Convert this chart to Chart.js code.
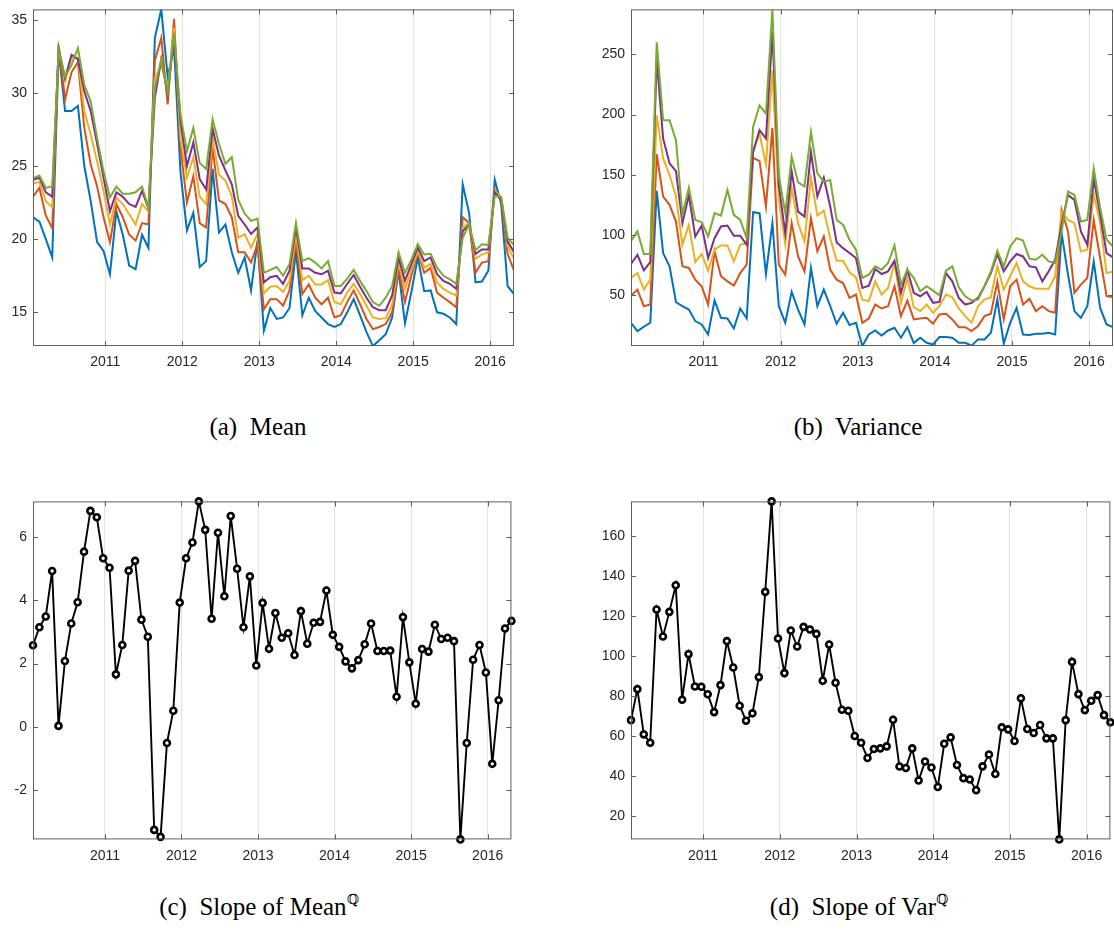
<!DOCTYPE html>
<html>
<head>
<meta charset="utf-8">
<script src="https://cdn.jsdelivr.net/npm/chart.js@4.4.0/dist/chart.umd.min.js"></script>
<style>
  body { margin: 0; background: #fff; width: 1114px; height: 932px; overflow: hidden; position: relative; }
  canvas { position: absolute; }
  .caption { position: absolute; font-family: 'Liberation Serif', serif; font-size: 25px; line-height: 1; color: #000; white-space: pre; transform: translateX(-50%); }
  .caption sup { font-family: 'DejaVu Serif', serif; font-size: 14px; vertical-align: 11px; line-height: 0; color: #000; }
</style>
</head>
<body>
<div class="caption" style="left:258px; top:414px;">(a)  Mean</div>
<div class="caption" style="left:858px; top:414px;">(b)  Variance</div>
<div class="caption" style="left:259px; top:894px;">(c)  Slope of Mean<sup>ℚ</sup></div>
<div class="caption" style="left:859px; top:894px;">(d)  Slope of Var<sup>ℚ</sup></div>
<script>
// monthly observations
const months = [
  '2010-01','2010-02','2010-03','2010-04','2010-05','2010-06','2010-07','2010-08','2010-09','2010-10','2010-11','2010-12',
  '2011-01','2011-02','2011-03','2011-04','2011-05','2011-06','2011-07','2011-08','2011-09','2011-10','2011-11','2011-12',
  '2012-01','2012-02','2012-03','2012-04','2012-05','2012-06','2012-07','2012-08','2012-09','2012-10','2012-11','2012-12',
  '2013-01','2013-02','2013-03','2013-04','2013-05','2013-06','2013-07','2013-08','2013-09','2013-10','2013-11','2013-12',
  '2014-01','2014-02','2014-03','2014-04','2014-05','2014-06','2014-07','2014-08','2014-09','2014-10','2014-11','2014-12',
  '2015-01','2015-02','2015-03','2015-04','2015-05','2015-06','2015-07','2015-08','2015-09','2015-10','2015-11','2015-12',
  '2016-01','2016-02','2016-03','2016-04'
];

// (a) mean, five curves
const mean1 = [21.5,21.2,20.0,18.75,32.9,28.75,28.75,29.1,25.0,22.6,19.8,19.2,17.6,21.9,20.3,18.2,17.95,20.3,19.4,33.75,35.7,31.1,33.1,24.55,20.6,21.8,
  18.1,18.5,24.8,20.45,21.0,19.1,17.7,18.75,16.5,19.9,13.75,15.3,14.55,14.65,15.3,19.2,14.8,16.0,15.1,14.65,14.2,14.0,14.2,15.0,
  15.9,14.8,13.65,12.7,13.1,13.5,14.65,17.85,14.25,16.4,18.75,16.45,16.5,15.0,14.9,14.65,14.2,23.75,21.8,17.05,17.1,17.85,24.05,22.4,16.8,16.25];
const mean2 = [22.9,23.5,21.6,20.75,33.25,29.55,31.4,32.1,27.6,25.1,23.6,21.5,19.8,22.4,21.5,20.3,19.9,21.1,21.0,32.2,33.75,29.2,35.05,26.25,22.5,24.3,
  21.1,20.8,26.25,22.65,22.4,21.5,19.1,19.1,18.4,19.65,15.2,15.9,15.9,15.45,16.5,19.9,16.25,16.9,16.0,15.55,16.0,14.65,14.8,15.7,
  16.5,15.55,14.55,13.85,14.0,14.2,15.0,18.05,15.7,17.5,19.1,17.7,18.05,16.35,16.0,15.7,15.35,21.5,21.1,17.7,18.4,18.5,23.4,22.6,19.0,17.85];
const mean3 = [23.8,23.9,22.6,22.2,33.1,30.8,32.4,32.4,28.75,27.15,25.3,23.3,21.0,22.85,22.4,21.7,21.0,22.4,21.9,31.0,31.9,30.2,34.4,26.9,24.2,25.6,
  22.9,22.4,26.9,24.4,24.0,22.95,20.1,20.35,19.4,20.35,16.3,16.75,16.8,16.4,17.15,20.35,17.2,17.5,16.9,16.9,17.2,15.7,15.55,16.35,
  16.95,16.25,15.45,14.65,14.55,14.6,15.55,18.4,16.6,17.9,19.2,18.05,18.3,17.05,16.6,16.35,16.15,20.8,21.1,18.65,18.95,19.1,23.3,22.85,19.55,18.65];
const mean4 = [24.05,24.2,23.2,22.9,33.0,31.0,32.6,32.3,30.1,28.75,26.5,24.2,21.9,23.2,22.9,22.4,22.2,23.3,22.1,29.65,32.3,29.9,33.9,28.05,25.0,26.6,
  24.1,23.4,27.55,25.7,24.7,23.75,21.6,21.0,20.35,20.8,17.05,17.4,17.5,16.95,17.85,20.8,18.0,18.0,17.7,17.6,17.85,16.35,16.3,16.95,
  17.55,16.75,16.0,15.35,15.15,15.15,16.15,18.75,17.15,18.3,19.45,18.5,18.75,17.6,17.15,16.95,16.6,20.55,21.0,19.0,19.3,19.3,23.2,22.7,19.85,19.1];
const mean5 = [24.15,24.35,23.5,23.6,32.9,31.1,31.9,33.05,30.55,29.4,26.9,24.65,22.85,23.6,23.1,23.1,23.2,23.6,22.15,30.3,32.3,30.0,34.1,28.5,26.0,27.6,
  25.2,24.8,28.2,26.5,25.15,25.6,22.7,21.75,21.25,21.4,17.7,17.9,18.1,17.5,18.3,21.1,18.5,18.7,18.4,18.0,18.5,16.8,16.8,17.3,
  17.9,17.15,16.45,15.7,15.45,16.0,16.8,19.1,17.7,18.6,19.65,18.95,19.0,18.05,17.5,17.25,16.95,20.1,21.0,19.25,19.65,19.6,22.95,22.9,20.1,19.6];

// (b) variance, five curves
const var1 = [26.8,19.9,23.5,26.8,136.5,84.8,73.8,43.9,40.6,37.8,28.2,25.4,17.1,45.3,30.9,30.4,22.1,38.7,30.4,118.8,118.0,67.4,109.7,40.6,26.8,52.5,
  37.8,25.4,72.4,40.6,54.4,40.6,26.0,35.1,24.9,26.8,7.5,17.1,20.4,16.3,20.4,22.7,14.4,23.2,9.9,14.4,10.2,8.8,14.9,14.9,
  14.4,10.2,10.2,7.8,13.0,13.0,18.5,46.1,9.4,26.8,39.2,17.1,16.6,17.7,17.7,18.5,17.1,101.4,66.9,36.5,30.9,40.6,77.9,39.2,25.4,23.2];
const var2 = [49.4,54.4,40.6,42.0,167.1,131.8,124.9,111.0,73.8,72.4,62.7,57.2,42.0,86.2,65.5,61.3,57.7,68.2,75.1,164.1,161.3,123.5,188.9,75.1,66.9,109.7,
  82.0,69.6,113.8,86.2,98.6,71.0,62.7,59.9,47.5,50.3,26.8,30.4,42.0,38.7,40.6,57.2,32.3,45.3,29.6,30.4,30.9,26.0,33.7,34.3,
  29.6,23.2,23.2,19.9,24.0,32.3,34.3,60.8,29.6,57.2,62.7,42.0,46.7,36.5,40.6,36.5,35.1,120.7,102.8,51.7,58.6,64.1,112.4,80.7,48.9,48.1];
const var3 = [64.1,68.2,54.4,62.7,199.4,163.5,149.7,131.8,91.7,108.3,77.3,84.0,70.2,87.6,91.2,91.2,77.9,91.7,93.1,169.1,184.3,158.6,236.7,129.0,92.3,138.7,
  109.7,94.5,147.5,116.0,120.2,97.2,78.5,78.5,68.8,64.6,46.1,44.8,61.3,50.3,55.8,76.5,43.4,64.1,39.8,36.5,42.0,35.1,40.6,50.3,
  48.1,38.7,32.3,26.8,40.6,46.1,48.1,73.8,54.4,65.5,76.5,61.3,57.2,55.2,55.2,55.2,65.5,119.3,112.4,109.7,86.2,87.6,133.7,109.7,68.2,69.6];
const var4 = [75.7,83.4,70.4,77.3,246.4,180.1,159.4,153.0,109.7,133.1,98.6,107.7,80.7,97.2,106.9,107.7,99.2,99.2,91.7,169.1,187.0,180.1,268.5,141.4,101.4,153.0,
  119.3,115.2,169.1,131.8,147.5,123.5,93.6,88.9,84.8,80.7,55.8,57.7,71.5,67.4,69.6,78.5,51.7,71.0,51.7,48.9,52.5,43.4,44.2,68.2,
  61.3,47.5,42.0,43.4,47.5,57.2,68.2,84.0,69.6,77.9,84.0,82.0,73.8,72.9,61.3,69.6,79.3,108.3,133.1,129.0,102.8,91.7,146.4,116.6,84.8,81.2];
const var5 = [95.0,102.8,84.0,84.0,260.2,195.3,195.3,178.7,116.6,139.2,112.4,110.5,98.6,118.0,116.0,137.3,116.6,112.4,97.2,189.8,207.7,200.8,287.5,149.7,118.0,164.9,
  143.6,140.1,185.6,151.1,144.2,145.6,112.4,108.3,95.9,87.6,64.1,66.9,73.8,71.0,76.5,91.2,58.6,71.0,64.1,53.1,57.2,53.6,49.7,70.2,
  73.8,56.4,48.9,45.3,46.1,57.2,69.6,86.7,73.8,90.3,97.2,95.3,80.1,79.3,83.4,77.9,76.5,102.8,135.9,133.1,111.0,112.4,155.2,122.6,95.9,90.3];

// (c) slope of Mean^Q
const slopeMean = [2.58,3.15,3.49,4.93,0.03,2.08,3.27,3.94,5.54,6.83,6.63,5.33,5.03,1.66,2.59,4.94,5.25,3.39,2.85,-3.26,-3.48,-0.51,0.51,3.93,5.33,5.83,
  7.13,6.23,3.42,6.14,4.13,6.67,5.0,3.15,4.76,1.94,3.92,2.47,3.6,2.82,2.96,2.27,3.66,2.63,3.29,3.32,4.31,2.91,2.53,2.07,
  1.85,2.11,2.61,3.27,2.4,2.4,2.41,0.95,3.47,2.04,0.73,2.46,2.38,3.23,2.78,2.82,2.71,-3.56,-0.51,2.12,2.59,1.72,-1.17,0.84,3.11,3.35];

// (d) slope of Var^Q
const slopeVar = [68.0,83.5,60.9,56.7,123.3,109.8,122.1,135.4,78.2,101.0,84.8,84.7,80.9,72.0,85.5,107.5,94.3,75.2,67.7,71.4,89.5,132.1,177.3,108.8,91.5,112.8,
  104.8,114.6,113.3,111.1,87.7,105.8,86.7,73.2,72.7,60.1,56.7,49.1,53.6,53.9,54.9,68.2,44.8,44.1,53.9,37.8,47.3,44.3,34.6,56.2,
  59.4,45.6,39.0,38.3,33.0,44.9,50.8,41.1,64.4,63.4,57.6,78.9,63.6,61.6,65.6,58.9,58.9,8.4,68.0,97.1,81.0,73.0,77.7,80.5,70.5,66.9];

const COLORS = ['#0072BD', '#D95319', '#EDB120', '#7E2F8E', '#77AC30'];

// decimal year, points sit a little into each month
function toYear(m) {
  const [y, mo] = m.split('-').map(Number);
  return y + (mo - 1 + 0.72) / 12;
}
const xs = months.map(toYear);
const pts = vals => vals.map((v, i) => ({ x: xs[i], y: v }));

const Y_AXIS_W = 45, X_AXIS_H = 30, PAD_TOP = 12, PAD_RIGHT = 1;

// matlab style box with inward ticks on all four sides
const boxFrame = {
  id: 'boxFrame',
  afterDatasetsDraw(chart) {
    const { ctx, chartArea: a, scales: { x, y } } = chart;
    const t = 5;
    ctx.save();
    ctx.strokeStyle = '#5e5e5e';
    ctx.lineWidth = 1;
    ctx.strokeRect(a.left + 0.5, a.top + 0.5, a.right - a.left - 1, a.bottom - a.top - 1);
    ctx.beginPath();
    x.ticks.forEach(tk => {
      const px = Math.round(x.getPixelForValue(tk.value)) + 0.5;
      ctx.moveTo(px, a.bottom); ctx.lineTo(px, a.bottom - t);
      ctx.moveTo(px, a.top); ctx.lineTo(px, a.top + t);
    });
    y.ticks.forEach(tk => {
      const py = Math.round(y.getPixelForValue(tk.value)) + 0.5;
      ctx.moveTo(a.left, py); ctx.lineTo(a.left + t, py);
      ctx.moveTo(a.right, py); ctx.lineTo(a.right - t, py);
    });
    ctx.stroke();
    ctx.restore();
  }
};

function makePanel(box, datasets, yStep) {
  const canvas = document.createElement('canvas');
  canvas.width = Y_AXIS_W + (box.right - box.left) + PAD_RIGHT;
  canvas.height = PAD_TOP + (box.bottom - box.top) + X_AXIS_H;
  document.body.appendChild(canvas);

  const all = datasets.flatMap(d => d.data.map(p => p.y));
  const tickFont = { family: "'Liberation Sans', Arial, sans-serif", size: 14 };

  const chart = new Chart(canvas.getContext('2d'), {
    type: 'line',
    data: { datasets },
    options: {
      responsive: false,
      animation: false,
      devicePixelRatio: 1,
      layout: { padding: { top: PAD_TOP, right: PAD_RIGHT, left: 0, bottom: 0 } },
      plugins: { legend: { display: false }, tooltip: { enabled: false } },
      scales: {
        x: {
          type: 'linear',
          min: xs[0],
          max: xs[xs.length - 1],
          afterFit: s => { s.height = X_AXIS_H; },
          border: { display: false },
          grid: { color: '#e2e2e2', lineWidth: 1, drawTicks: false },
          ticks: {
            stepSize: 1, includeBounds: false, padding: 8, autoSkip: false, maxRotation: 0,
            color: '#262626', font: tickFont, callback: v => String(v)
          }
        },
        y: {
          min: Math.min(...all),
          max: Math.max(...all),
          afterFit: s => { s.width = Y_AXIS_W; },
          border: { display: false },
          grid: { display: false, drawTicks: false },
          ticks: {
            stepSize: yStep, includeBounds: false, padding: 6,
            color: '#262626', font: tickFont, callback: v => String(v)
          }
        }
      }
    },
    plugins: [boxFrame]
  });

  // grow the canvas so the plot area gets the wanted size, then place it
  let a = chart.chartArea;
  const w = canvas.width + (box.right - box.left) - (a.right - a.left);
  const h = canvas.height + (box.bottom - box.top) - (a.bottom - a.top);
  chart.resize(w, h);
  a = chart.chartArea;
  canvas.style.left = (box.left - a.left) + 'px';
  canvas.style.top = (box.top - a.top) + 'px';
}

function curveSets(series) {
  return series.map((vals, i) => ({
    data: pts(vals),
    borderColor: COLORS[i],
    borderWidth: 2,
    pointRadius: 0,
    tension: 0,
    order: series.length - i
  }));
}

function markerSet(vals) {
  return [{
    data: pts(vals),
    borderColor: '#000',
    borderWidth: 1.9,
    pointRadius: 3,
    pointBorderWidth: 2.6,
    pointBorderColor: '#000',
    pointBackgroundColor: '#fff',
    tension: 0,
    clip: false
  }];
}

makePanel({ left: 33, right: 514, top: 9, bottom: 348 }, curveSets([mean1, mean2, mean3, mean4, mean5]), 5);
makePanel({ left: 631, right: 1113, top: 9, bottom: 348 }, curveSets([var1, var2, var3, var4, var5]), 50);
makePanel({ left: 33, right: 514, top: 501, bottom: 839 }, markerSet(slopeMean), 2);
makePanel({ left: 631, right: 1113, top: 501, bottom: 839 }, markerSet(slopeVar), 20);
</script>
</body>
</html>
